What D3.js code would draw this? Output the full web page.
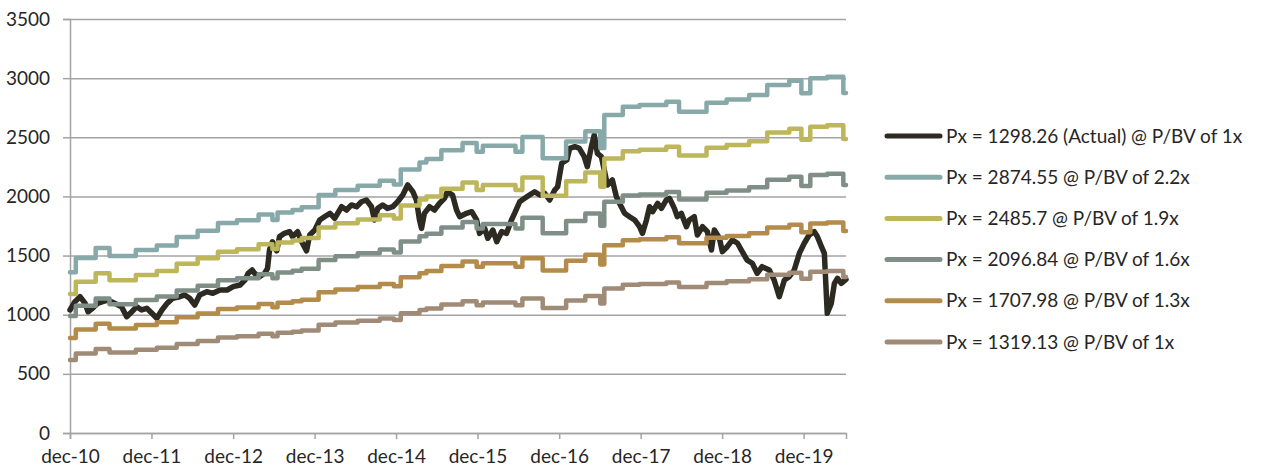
<!DOCTYPE html>
<html>
<head>
<meta charset="utf-8">
<script src="https://cdn.jsdelivr.net/npm/d3@7"></script>
<style>
  html, body { margin: 0; padding: 0; background: #ffffff; }
  svg { display: block; font-family: Lato, "Open Sans", sans-serif; }
</style>
</head>
<body>
<svg id="chart" width="1262" height="471"></svg>
<script>
// ---------- DATA ----------
const yTicks = [0, 500, 1000, 1500, 2000, 2500, 3000, 3500];
const xTickLabels = ["dec-10","dec-11","dec-12","dec-13","dec-14","dec-15","dec-16","dec-17","dec-18","dec-19"];
const xTickDates = ["2010-12-01","2011-12-01","2012-12-01","2013-12-01","2014-12-01","2015-12-01","2016-12-01","2017-12-01","2018-12-01","2019-12-01"];

const seriesNames = [
  "Px = 1298.26 (Actual) @ P/BV of 1x",
  "Px = 2874.55 @ P/BV of 2.2x",
  "Px = 2485.7 @ P/BV of 1.9x",
  "Px = 2096.84 @ P/BV of 1.6x",
  "Px = 1707.98 @ P/BV of 1.3x",
  "Px = 1319.13 @ P/BV of 1x"
];

// Actual price
const actualDates = ["2010-12-01","2010-12-23","2011-01-15","2011-02-07","2011-02-20","2011-03-12","2011-04-04","2011-04-26","2011-05-18","2011-06-19","2011-07-20","2011-08-12","2011-09-04","2011-09-26","2011-10-18","2011-11-10","2011-12-03","2011-12-25","2012-01-17","2012-02-09","2012-03-05","2012-04-06","2012-04-28","2012-05-20","2012-06-12","2012-07-04","2012-08-05","2012-09-01","2012-10-03","2012-11-04","2012-12-01","2013-01-01","2013-01-23","2013-02-06","2013-02-24","2013-03-07","2013-03-29","2013-04-21","2013-05-04","2013-05-13","2013-05-26","2013-06-14","2013-06-27","2013-07-19","2013-08-11","2013-08-24","2013-09-16","2013-10-04","2013-10-26","2013-11-09","2013-12-02","2013-12-24","2014-01-16","2014-02-08","2014-03-01","2014-04-01","2014-04-23","2014-05-15","2014-06-07","2014-06-29","2014-07-21","2014-08-13","2014-08-26","2014-09-10","2014-10-02","2014-10-24","2014-11-16","2014-12-08","2014-12-31","2015-01-22","2015-02-14","2015-03-02","2015-03-16","2015-03-25","2015-04-07","2015-04-30","2015-05-22","2015-06-14","2015-07-06","2015-07-19","2015-08-11","2015-08-29","2015-09-12","2015-10-13","2015-11-05","2015-11-27","2015-12-10","2016-01-02","2016-01-16","2016-02-08","2016-02-25","2016-03-18","2016-04-09","2016-05-01","2016-05-15","2016-06-07","2016-06-29","2016-07-21","2016-08-13","2016-09-05","2016-09-27","2016-10-19","2016-11-11","2016-11-24","2016-12-12","2017-01-04","2017-01-17","2017-02-09","2017-03-01","2017-03-23","2017-04-06","2017-04-24","2017-05-07","2017-05-21","2017-06-08","2017-06-21","2017-07-05","2017-07-27","2017-08-14","2017-08-28","2017-09-20","2017-10-12","2017-11-04","2017-11-26","2017-12-09","2017-12-27","2018-01-10","2018-01-24","2018-02-15","2018-03-04","2018-03-26","2018-04-09","2018-05-01","2018-05-14","2018-06-01","2018-06-24","2018-07-07","2018-07-29","2018-08-12","2018-09-04","2018-09-26","2018-10-14","2018-10-27","2018-11-19","2018-12-02","2018-12-24","2019-01-16","2019-02-08","2019-03-01","2019-03-23","2019-04-15","2019-05-07","2019-05-29","2019-06-30","2019-07-22","2019-08-14","2019-09-06","2019-09-28","2019-10-20","2019-11-12","2019-12-04","2019-12-26","2020-01-18","2020-02-01","2020-02-19","2020-03-03","2020-03-16","2020-04-03","2020-04-17","2020-05-01","2020-05-18","2020-06-08"];
const actualValues = [1040,1110,1152,1096,1025,1054,1096,1110,1124,1096,1068,983,1025,1068,1040,1054,1012,970,1040,1096,1139,1152,1167,1139,1082,1167,1195,1181,1209,1209,1237,1251,1293,1350,1378,1350,1321,1350,1392,1547,1617,1540,1660,1688,1702,1660,1702,1617,1540,1674,1716,1800,1830,1857,1815,1913,1885,1928,1913,1955,1970,1913,1801,1899,1928,1899,1913,1955,2012,2097,2040,1970,1801,1730,1857,1913,1885,1942,1984,2040,2012,1885,1829,1857,1871,1801,1688,1730,1646,1716,1617,1702,1688,1801,1857,1955,1984,2012,2040,2012,2026,1970,2054,2082,2280,2308,2407,2421,2407,2336,2251,2421,2519,2364,2336,2223,2097,2139,1998,1942,1857,1829,1801,1744,1688,1801,1913,1871,1942,1899,1970,1984,1899,1829,1857,1744,1801,1829,1674,1744,1702,1547,1716,1646,1533,1575,1632,1604,1533,1462,1435,1350,1406,1378,1293,1152,1293,1321,1378,1519,1604,1674,1702,1660,1575,1519,1012,1096,1265,1308,1265,1298];

// Book-value band step dates and values
const bandDates = ["2010-12-01","2010-12-27","2011-03-26","2011-05-27","2011-09-22","2011-12-25","2012-03-23","2012-06-25","2012-09-24","2012-12-18","2013-03-25","2013-05-26","2013-06-18","2013-08-24","2013-10-04","2013-12-19","2014-03-04","2014-06-12","2014-09-19","2014-11-21","2014-12-22","2015-03-16","2015-04-16","2015-06-22","2015-09-25","2015-11-27","2015-12-25","2016-05-19","2016-06-19","2016-09-18","2017-01-01","2017-03-28","2017-06-03","2017-06-21","2017-09-12","2017-11-26","2018-03-26","2018-05-22","2018-09-22","2018-12-21","2019-04-01","2019-06-21","2019-09-28","2019-11-21","2019-12-31","2020-03-16","2020-05-27","2020-06-08"];
const band22 = [1360,1480,1564,1496,1547,1586,1657,1710,1775,1798,1847,1800,1865,1885,1908,2012,2054,2090,2132,2100,2228,2287,2316,2390,2452,2378,2428,2378,2502,2323,2465,2550,2410,2688,2759,2773,2801,2716,2792,2820,2857,2942,2978,2872,2999,3012,2875,2875];
const band19 = [1175,1278,1351,1292,1336,1370,1431,1477,1533,1553,1595,1555,1611,1628,1648,1738,1774,1805,1841,1814,1924,1975,2000,2064,2118,2054,2097,2054,2161,2006,2129,2202,2081,2321,2383,2395,2419,2346,2411,2435,2467,2541,2572,2480,2590,2601,2486,2486];
const band16 = [989,1076,1137,1088,1125,1153,1205,1244,1291,1308,1343,1309,1356,1371,1388,1463,1494,1520,1551,1527,1620,1663,1684,1738,1783,1729,1766,1729,1820,1689,1793,1855,1753,1955,2007,2017,2037,1975,2031,2051,2078,2140,2166,2089,2181,2191,2097,2097];
const band13 = [804,875,924,884,914,937,979,1010,1049,1062,1091,1064,1102,1114,1127,1189,1214,1235,1260,1241,1317,1351,1369,1412,1449,1405,1435,1405,1478,1373,1457,1507,1424,1588,1630,1639,1655,1605,1650,1666,1688,1738,1760,1697,1772,1780,1708,1708];
const band10 = [618,673,711,680,703,721,753,777,807,817,840,818,848,857,867,915,934,950,969,955,1013,1039,1053,1086,1114,1081,1104,1081,1137,1056,1120,1159,1095,1222,1254,1260,1273,1234,1269,1282,1299,1337,1354,1305,1363,1369,1319,1319];

const seriesColors = ["#2d2a22", "#87a9a9", "#bdb65b", "#7f8f88", "#b38b4a", "#a08b77"];

// ---------- CHART ----------
const parse = d3.timeParse("%Y-%m-%d");
const svg = d3.select("#chart");

const x = d3.scaleTime()
  .domain([parse("2010-12-01"), parse("2020-06-08")])
  .range([70, 846]);
const y = d3.scaleLinear().domain([0, 3500]).range([433, 19]);

const gridColor = "#a3a3a3";
const textColor = "#262626";
const fontSize = "19px";

// horizontal gridlines + y axis ticks
const yAxis = d3.axisLeft(y).tickValues(yTicks).tickSize(7).tickPadding(13).tickFormat(d3.format("d"));
const gy = svg.append("g").attr("transform", "translate(70,0)").call(yAxis);
gy.select(".domain").attr("stroke", gridColor).attr("stroke-width", 1.5);
gy.selectAll(".tick line").attr("stroke", gridColor).attr("stroke-width", 1.5);
gy.selectAll(".tick text").attr("fill", textColor).style("font-size", fontSize).style("font-family", "Lato, sans-serif");
gy.selectAll(".tick").append("line")
  .attr("x1", 0).attr("x2", 846 - 70)
  .attr("stroke", gridColor).attr("stroke-width", 1.5);

// x axis
const xAxis = d3.axisBottom(x)
  .tickValues(xTickDates.map(parse))
  .tickSize(6).tickPadding(11)
  .tickFormat((d, i) => xTickLabels[i]);
const gx = svg.append("g").attr("transform", "translate(0,433)").call(xAxis);
gx.select(".domain").attr("stroke", gridColor).attr("stroke-width", 1.5);
gx.selectAll(".tick line").attr("stroke", gridColor).attr("stroke-width", 1.5);
gx.selectAll(".tick text").attr("fill", textColor).style("font-size", fontSize).style("font-family", "Lato, sans-serif");

// series
const actual = actualDates.map((d, i) => ({ date: parse(d), value: actualValues[i] }));
const bands = [band22, band19, band16, band13, band10].map(arr =>
  bandDates.map((d, i) => ({ date: parse(d), value: arr[i] })));

const lineActual = d3.line().x(d => x(d.date)).y(d => y(d.value)).curve(d3.curveLinear);
const lineStep = d3.line().x(d => x(d.date)).y(d => y(d.value)).curve(d3.curveStepAfter);

svg.append("path").datum(actual)
  .attr("d", lineActual)
  .attr("fill", "none").attr("stroke", seriesColors[0])
  .attr("stroke-width", 5.5).attr("stroke-linejoin", "round").attr("stroke-linecap", "round");

bands.forEach((b, i) => {
  svg.append("path").datum(b)
    .attr("d", lineStep)
    .attr("fill", "none").attr("stroke", seriesColors[i + 1])
    .attr("stroke-width", 4.5).attr("stroke-linejoin", "round").attr("stroke-linecap", "round");
});

// legend
const legend = svg.append("g").attr("transform", "translate(887,136)");
seriesNames.forEach((name, i) => {
  const g = legend.append("g").attr("transform", `translate(0,${i * 41.2})`);
  g.append("line").attr("x1", 0).attr("x2", 53).attr("y1", 0).attr("y2", 0)
    .attr("stroke", seriesColors[i]).attr("stroke-width", 5).attr("stroke-linecap", "round");
  g.append("text").attr("x", 59).attr("y", 0).attr("dy", "0.35em")
    .attr("fill", textColor).style("font-size", fontSize).text(name);
});
</script>
</body>
</html>
